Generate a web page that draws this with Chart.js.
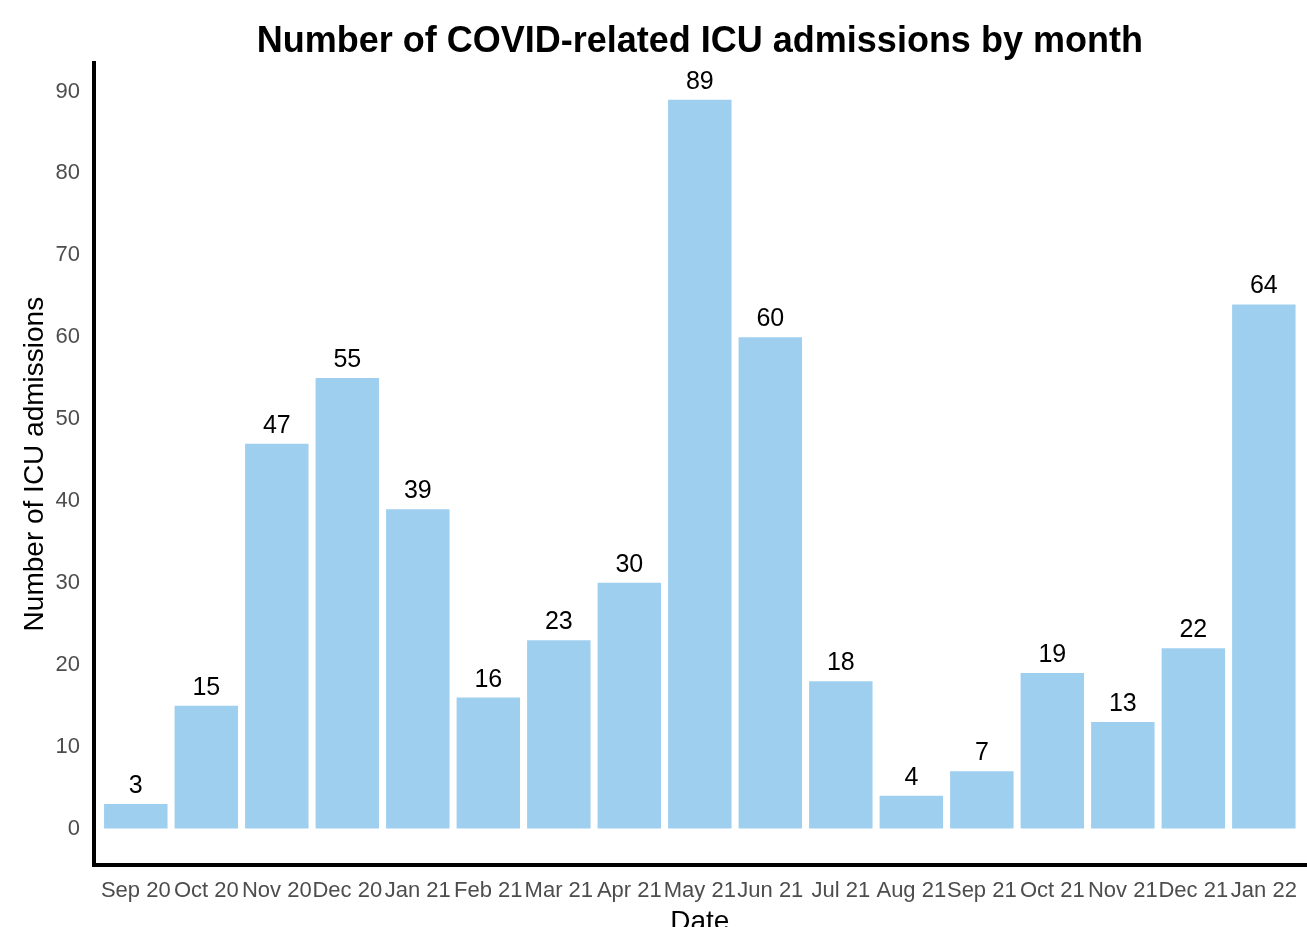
<!DOCTYPE html>
<html>
<head>
<meta charset="utf-8">
<script src="https://cdn.jsdelivr.net/npm/chart.js@4/dist/chart.umd.min.js"></script>
<style>
  html, body { margin: 0; padding: 0; background: #fff; overflow: hidden; }
  #wrap { width: 1310px; height: 943px; }
</style>
</head>
<body>
<div id="wrap"><canvas id="icuChart"></canvas></div>
<script>
const months = ['Sep 20', 'Oct 20', 'Nov 20', 'Dec 20', 'Jan 21', 'Feb 21', 'Mar 21', 'Apr 21', 'May 21',
                'Jun 21', 'Jul 21', 'Aug 21', 'Sep 21', 'Oct 21', 'Nov 21', 'Dec 21', 'Jan 22'];
const admissions = [3, 15, 47, 55, 39, 16, 23, 30, 89, 60, 18, 4, 7, 19, 13, 22, 64];
const yTicks = [0, 10, 20, 30, 40, 50, 60, 70, 80, 90];

const fontFamily = '"Liberation Sans", Arial, sans-serif';
Chart.defaults.font.family = fontFamily;

// value labels above each bar
const barLabels = {
    id: 'barLabels',
    afterDatasetsDraw(chart) {
        const ctx = chart.ctx;
        const meta = chart.getDatasetMeta(0);
        ctx.save();
        ctx.font = '25px ' + fontFamily;
        ctx.fillStyle = '#000';
        ctx.textAlign = 'center';
        ctx.textBaseline = 'alphabetic';
        meta.data.forEach((bar, i) => {
            ctx.fillText(admissions[i], bar.x, bar.y - 11);
        });
        ctx.restore();
    }
};

const data = {
    datasets: [{
        label: 'ICU admissions',
        data: admissions.map((v, i) => ({x: i + 1, y: v})),
        backgroundColor: '#9fcfef',
        borderWidth: 0,
        categoryPercentage: 1,
        barPercentage: 0.9
    }]
};

const config = {
    type: 'bar',
    data: data,
    options: {
        responsive: true,
        maintainAspectRatio: false,
        animation: false,
        layout: {padding: 0},
        plugins: {
            legend: {display: false},
            tooltip: {enabled: false},
            title: {
                display: true,
                fullSize: false,
                text: 'Number of COVID-related ICU admissions by month',
                color: '#000',
                font: {size: 36, weight: 'bold'},
                padding: {top: 20, bottom: 0}
            }
        },
        scales: {
            x: {
                type: 'linear',
                offset: false,
                min: 0.4,
                max: 17.6,
                afterBuildTicks: axis => { axis.ticks = months.map((m, i) => ({value: i + 1})); },
                afterFit: axis => { axis.height = 78; },
                grid: {display: false, drawTicks: false},
                border: {display: true, color: '#000', width: 4},
                ticks: {
                    autoSkip: false,
                    maxRotation: 0,
                    minRotation: 0,
                    padding: 13,
                    color: '#4d4d4d',
                    font: {size: 22},
                    callback: v => months[v - 1]
                },
                title: {
                    display: true,
                    text: 'Date',
                    color: '#000',
                    font: {size: 28},
                    padding: {top: 2, bottom: 4}
                }
            },
            y: {
                min: -4.45,
                max: 93.45,
                afterBuildTicks: axis => { axis.ticks = yTicks.map(v => ({value: v})); },
                afterFit: axis => { axis.width = 93.5; },
                grid: {display: false, drawTicks: false},
                border: {display: true, color: '#000', width: 4},
                ticks: {
                    padding: 13.5,
                    color: '#4d4d4d',
                    font: {size: 22}
                },
                title: {
                    display: true,
                    text: 'Number of ICU admissions',
                    color: '#000',
                    font: {size: 28},
                    padding: {top: 18, bottom: 5}
                }
            }
        }
    },
    plugins: [barLabels]
};

const icuChart = new Chart(document.getElementById('icuChart'), config);
</script>
</body>
</html>
